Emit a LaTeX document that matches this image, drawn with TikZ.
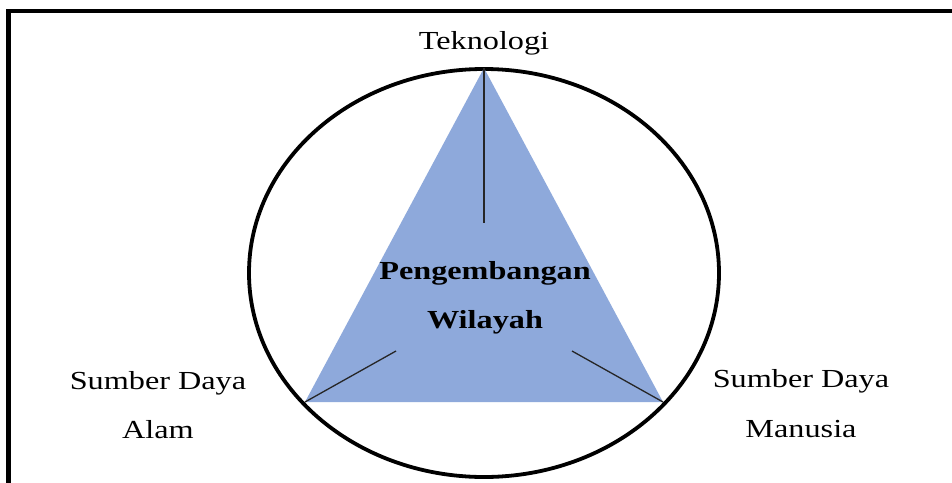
\documentclass[tikz,border=0pt]{standalone}
\usepackage{fontspec}
\usetikzlibrary{shapes.geometric}
\setmainfont{Liberation Serif}
\newfontfamily\lblfont[FakeStretch=1.24]{Liberation Serif}
\definecolor{triblue}{HTML}{8EA9DB}
\tikzset{
  lbl/.style={font=\lblfont\fontsize{26}{30}\selectfont, anchor=base, inner sep=0pt},
  ctr/.style={font=\lblfont\bfseries\fontsize{26}{30}\selectfont, anchor=base, inner sep=0pt},
  spoke/.style={line width=1.3pt, black!85}
}
\begin{document}
\begin{tikzpicture}[x=1pt,y=-1pt]
\useasboundingbox (0,0) rectangle (952,482);
\fill[white] (0,0) rectangle (952,482);
% frame (only top and left visible)
\draw[line width=4.5pt] (960,10.8) -- (8.7,10.8) -- (8.7,490);
% ellipse
\node[draw, line width=3.8pt, ellipse, minimum width=470pt, minimum height=408pt, inner sep=0pt] (circ) at (484,273) {};
% triangle
\coordinate (top) at (484,68);
\coordinate (bl) at (305,402);
\coordinate (br) at (663,402);
\fill[triblue] (top) -- (br) -- (bl) -- cycle;
\coordinate (tin) at (484,223);
\coordinate (lin) at (396,351);
\coordinate (rin) at (572,351);
\draw[spoke] (top) -- (tin);
\draw[spoke] (bl) -- (lin);
\draw[spoke] (br) -- (rin);
% labels
\node[lbl] (tek) at (484,49) {Teknologi};
\node[lbl] (sda1) at (158,389) {Sumber Daya};
\node[lbl] (sda2) at (158,438) {Alam};
\node[lbl] (sdm1) at (801,387) {Sumber Daya};
\node[lbl] (sdm2) at (801,437) {Manusia};
\node[ctr] (pw1) at (485,279) {Pengembangan};
\node[ctr] (pw2) at (485,328) {Wilayah};
\end{tikzpicture}
\end{document}
